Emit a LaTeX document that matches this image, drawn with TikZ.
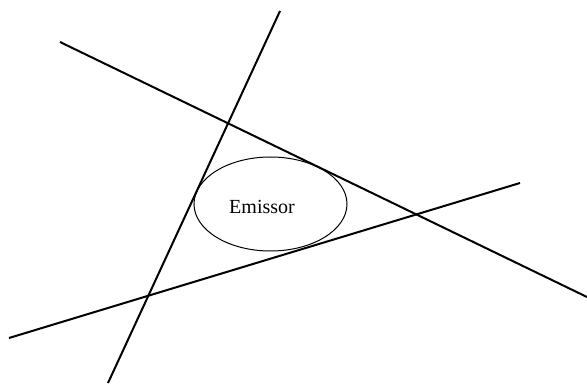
\documentclass[tikz,border=0pt]{standalone}
\usepackage{fontspec}
\setmainfont{Liberation Serif}
\begin{document}
\begin{tikzpicture}[x=0.75pt,y=-0.75pt,line width=1.5pt]
\useasboundingbox (0,0) rectangle (587,385);
\coordinate (a1) at (60,42);
\coordinate (a2) at (587,297);
\coordinate (b1) at (280,11);
\coordinate (b2) at (108,383);
\coordinate (c1) at (9,338);
\coordinate (c2) at (520,183);
\draw (a1) -- (a2);
\draw (b1) -- (b2);
\draw (c1) -- (c2);
\draw[line width=0.75pt] (270.5,204) ellipse (76.5 and 47);
\node[font=\fontsize{15}{18}\selectfont] (emissor) at (262,207) {Emissor};
\end{tikzpicture}
\end{document}
